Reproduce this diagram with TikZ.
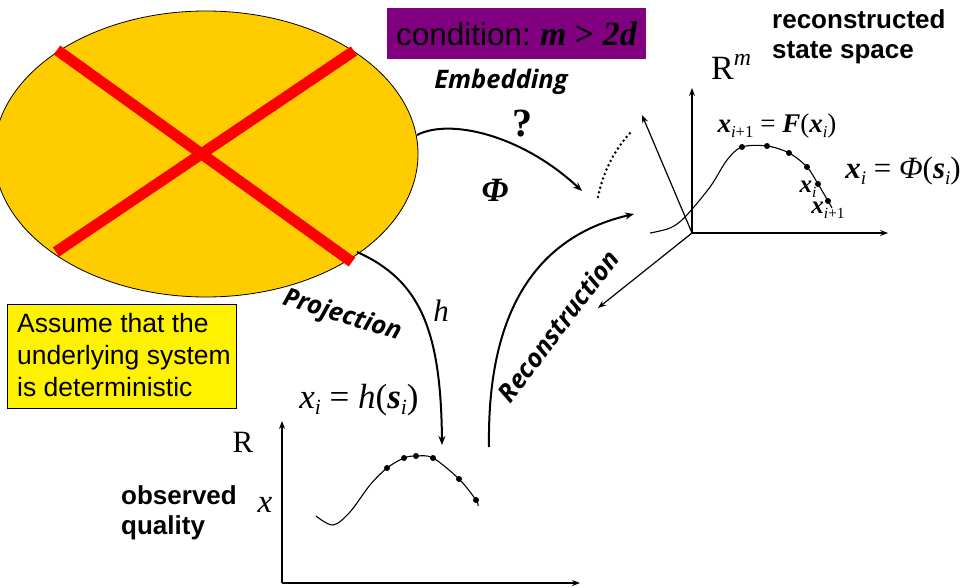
\documentclass[tikz,border=0pt]{standalone}
\usepackage{fontspec}
\setmainfont{Liberation Serif}
\newfontfamily\arialf{Liberation Sans}
\newfontfamily\osans{Open Sans}
\usetikzlibrary{shapes.geometric,arrows.meta}
\newcommand\sbx[1]{\raisebox{-0.4ex}{\scalebox{0.62}{#1}}}
\newcommand\spx[1]{\raisebox{0.9ex}{\scalebox{0.7}{#1}}}
\newcommand\bix[1]{{\bfseries\itshape #1}}
\definecolor{gold}{RGB}{255,204,0}
\definecolor{purp}{RGB}{128,0,128}
\tikzset{
  bigarrow/.style={line width=2pt,-{Stealth[length=9pt,width=7pt]}},
  axis/.style={line width=1.2pt,-{Stealth[length=8pt,width=6pt]}},
  curve/.style={line width=1.1pt},
  dot/.style={circle,fill=black,inner sep=0pt,minimum size=6pt},
  osb/.style={font=\osans\bfseries\itshape\fontsize{25.5}{28}\selectfont},
  arb/.style={font=\arialf\bfseries\fontsize{26}{30}\selectfont,align=left},
}
\begin{document}
\begin{tikzpicture}[x=1pt,y=-1pt]
\useasboundingbox (0,0) rectangle (965,588);
% ellipse with red cross
\node[ellipse,draw=black,line width=0.8pt,fill=gold,minimum width=424,minimum height=286,inner sep=0pt] (sys) at (206,154) {};
\draw[red,line width=11pt] (57,50) -- (352,262);
\draw[red,line width=11pt] (354,51) -- (56,252);
% condition box
\node[fill=purp,minimum width=259,minimum height=51,inner sep=0pt] (cond) at (516.5,33.5)
  {{\arialf\fontsize{31.5}{34}\selectfont condition:}\hspace{9pt}{\fontsize{34}{36}\selectfont\bix{m} \textbf{>} \bix{2d}}};
\node[osb] (emb) at (501,82) {Embedding};
% reconstructed state space label
\node[arb,anchor=north west,inner sep=0pt] (rss) at (772,9) {reconstructed\\state space};
% embedding arrow
\coordinate (embS) at (417,135);
\coordinate (embE) at (582,191);
\draw[bigarrow] (embS) .. controls (450,118) and (522,135) .. (embE);
\node[font=\bfseries\fontsize{40}{42}\selectfont] (q) at (522,124) {?};
\node[font=\bfseries\itshape\fontsize{34}{36}\selectfont] (phi) at (495,190) {Φ};
% dotted arc
\coordinate (dA) at (598,197);
\coordinate (dB) at (633,130);
\draw[line width=2.8pt,line cap=round,dash pattern=on 0pt off 4.8pt] (dA) .. controls (603,172) and (615,148) .. (dB);
% R^m axes
\coordinate (O) at (692,233);
\coordinate (yT) at (692,88);
\coordinate (xT) at (888,233);
\coordinate (zT) at (642,115);
\coordinate (wT) at (598,308);
\draw[axis] (O) -- (yT);
\draw[axis] (O) -- (xT);
\draw[axis] (O) -- (zT);
\draw[axis] (O) -- (wT);
\node[font=\fontsize{34}{36}\selectfont,anchor=base west,inner sep=0pt] (Rm) at (711,80) {R\spx{\itshape m}};
% attractor curve
\draw[curve] plot[smooth,tension=0.55] coordinates {(650,233) (670,228) (685,217) (710,187) (727,160) (742,147) (767,146) (789,153) (807,167) (818,184) (828,201) (832,208)};
\foreach \p [count=\k] in {(742,147),(767,146),(789,153),(807,167),(818,184),(828,201)}
  \node[dot] (md\k) at \p {};
\node[font=\fontsize{27}{28}\selectfont] (Feq) at (777,126) {\bix{x}\sbx{\itshape i\upshape+1} = \bix{F}(\bix{x}\sbx{\itshape i})};
\node[font=\fontsize{31}{32}\selectfont] (Phieq) at (903,171) {\bix{x}\sbx{\itshape i} = {\itshape Φ}(\bix{s}\sbx{\itshape i})};
\node[font=\fontsize{25}{26}\selectfont] (xi) at (808,189) {\bix{x}\sbx{\itshape i}};
\node[font=\fontsize{25}{26}\selectfont] (xi1) at (828,210) {\bix{x}\sbx{\itshape i\upshape+1}};
% reconstruction arrow
\coordinate (recS) at (489,447);
\coordinate (recE) at (634,214);
\draw[bigarrow] (recS) .. controls (487,320) and (530,238) .. (recE);
\node[osb,rotate=53] (rec) at (558,326) {Reconstruction};
% projection arrow
\coordinate (prS) at (357,252);
\coordinate (prE) at (442,445);
\draw[bigarrow] (prS) .. controls (420,280) and (441,330) .. (prE);
\node[osb,rotate=-17] (proj) at (342,316) {Projection};
\node[font=\itshape\fontsize{31}{32}\selectfont] (h) at (441,311) {h};
% assumption box
\node[draw=black,line width=0.8pt,fill=yellow,minimum width=229,minimum height=104,inner sep=0pt] (ass) at (122,356) {};
\node[font=\arialf\fontsize{26.5}{32}\selectfont,align=left,anchor=north west,inner sep=0pt] (asst) at (17,313) {Assume that the\\underlying system\\is deterministic};
% observation equation
\node[font=\fontsize{35}{36}\selectfont] (heq) at (359,400) {{\itshape x}\sbx{\itshape i} = {\itshape h}(\bix{s}\sbx{\itshape i})};
% bottom axes
\coordinate (bO) at (282,583);
\coordinate (bY) at (282,421);
\coordinate (bX) at (580,583);
\draw[axis] (bO) -- (bY);
\draw[axis] (bO) -- (bX);
\node[font=\fontsize{31}{32}\selectfont] (R) at (243,442) {R};
\node[font=\itshape\fontsize{33}{34}\selectfont] (xl) at (265,505) {x};
\node[arb,anchor=north west,inner sep=0pt] (obs) at (121,485) {observed\\quality};
% observed curve
\draw[curve] plot[smooth,tension=0.55] coordinates {(316,516) (333,525) (350,512) (370,485) (387,468) (404,458) (416,456) (433,458) (459,479) (476,500) (478,506)};
\foreach \p [count=\k] in {(387,468),(404,458),(416,456),(433,458),(459,479),(476,500)}
  \node[dot] (od\k) at \p {};
\end{tikzpicture}
\end{document}
